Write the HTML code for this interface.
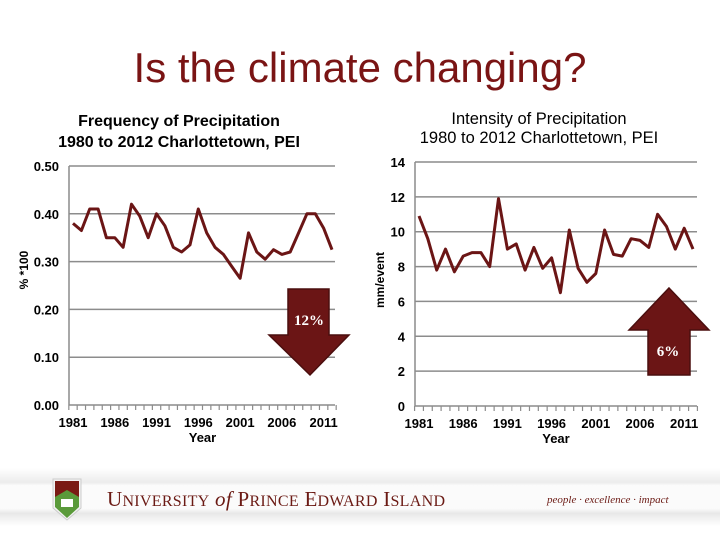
<!DOCTYPE html>
<html><head><meta charset="utf-8"><style>
body{margin:0;background:#fff;}
svg{display:block;font-family:"Liberation Sans",Arial,sans-serif;}
</style></head><body>
<svg id="s" width="720" height="540" viewBox="0 0 720 540">
<defs>
<linearGradient id="band" x1="0" y1="0" x2="0" y2="1">
<stop offset="0" stop-color="#fff"/><stop offset="0.25" stop-color="#ececec"/><stop offset="0.3" stop-color="#fbfbfb"/><stop offset="0.7" stop-color="#fbfbfb"/><stop offset="0.78" stop-color="#e8e8e8"/><stop offset="1" stop-color="#fff"/>
</linearGradient>
</defs>
<text x="360" y="82" text-anchor="middle" font-size="42" fill="#7a1414">Is the climate changing?</text>
<g font-size="16" font-weight="bold" text-anchor="middle" fill="#000">
<text x="179" y="126">Frequency of Precipitation</text><text x="179" y="147">1980 to 2012  Charlottetown, PEI</text></g>
<g font-size="16.5" text-anchor="middle" fill="#000">
<text x="539" y="124">Intensity of Precipitation</text><text x="539" y="143">1980 to 2012  Charlottetown, PEI</text></g>
<g id="left"></g>
<g id="right"></g>
<polygon points="288,289 329,289 329,335 349,335 310,375 269,335 288,335" fill="#6b1515" stroke="#4a0e0e" stroke-width="1.5"/>
<text x="309" y="325" text-anchor="middle" font-family="Liberation Serif,serif" font-weight="bold" font-size="15" fill="#fff">12%</text>
<polygon points="669,288 709,330 690,330 690,375 648,375 648,330 629,330" fill="#6b1515" stroke="#4a0e0e" stroke-width="1.5"/>
<text x="668" y="356" text-anchor="middle" font-family="Liberation Serif,serif" font-weight="bold" font-size="15" fill="#fff">6%</text>
<rect x="0" y="468" width="720" height="58" fill="url(#band)"/>
<g>
<path d="M53,479 L81,479 L81,508 L67,520 L53,508 Z" fill="#f2f2f2" stroke="#ccc" stroke-width="1"/>
<path d="M55,481 L79,481 L79,497 L55,497 Z" fill="#7a1a14"/>
<path d="M55,497 L67,490 L79,497 L79,507 L67,518 L55,507 Z" fill="#5a9a3a"/>
<rect x="61" y="499" width="12" height="8" fill="#fff"/>
</g>
<text x="107" y="506" font-family="Liberation Serif,serif" font-size="21" fill="#6b1a14" textLength="338">U<tspan font-size="16">NIVERSITY</tspan> <tspan font-style="italic">of</tspan> P<tspan font-size="16">RINCE</tspan> E<tspan font-size="16">DWARD</tspan> I<tspan font-size="16">SLAND</tspan></text>
<text x="547" y="503" font-family="Liberation Serif,serif" font-style="italic" font-size="11" fill="#6b1a14">people · excellence · impact</text>
</svg>
<script>
const years=[];for(let y=1981;y<=2012;y++)years.push(y);
const xTickLabels=["1981","1986","1991","1996","2001","2006","2011"];
const freqValues=[0.38,0.365,0.41,0.41,0.35,0.35,0.33,0.42,0.395,0.35,0.40,0.375,0.33,0.32,0.335,0.41,0.36,0.33,0.315,0.29,0.265,0.36,0.32,0.305,0.325,0.315,0.32,0.36,0.40,0.40,0.37,0.325];
const freqTicks=[0,0.1,0.2,0.3,0.4,0.5];
const intValues=[10.9,9.6,7.8,9.0,7.7,8.6,8.8,8.8,8.0,11.9,9.0,9.3,7.8,9.1,7.9,8.5,6.5,10.1,7.9,7.1,7.6,10.1,8.7,8.6,9.6,9.5,9.1,11.0,10.3,9.0,10.2,9.0];
const intTicks=[0,2,4,6,8,10,12,14];
const NS="http://www.w3.org/2000/svg";
function mk(p,t,a){const e=document.createElementNS(NS,t);for(const k in a)e.setAttribute(k,a[k]);p.appendChild(e);return e;}
function chart(g,vals,ticks,cfg){
 const ymax=ticks[ticks.length-1];
 const xs=i=>cfg.x0+(cfg.x1-cfg.x0)*i/(years.length-1);
 const ys=v=>cfg.yb-(cfg.yb-cfg.yt)*v/ymax;
 ticks.forEach(t=>{
  const l=mk(g,'line',{x1:cfg.ax,x2:cfg.ax+cfg.w,y1:ys(t),y2:ys(t),stroke:'#8c8c8c','stroke-width':1.5});
  
  
  const tx=mk(g,'text',{x:cfg.ax-cfg.lg,y:ys(t)+5,'text-anchor':'end','font-size':13,'font-weight':'bold'});
  tx.textContent=cfg.fmt(t);
  
  
 });
 const ax=mk(g,'line',{x1:cfg.ax,x2:cfg.ax,y1:cfg.yt,y2:cfg.yb,stroke:'#8c8c8c','stroke-width':1.5});
 
 
 const step=(cfg.x1-cfg.x0)/(years.length-1);
 for(let i=0;i<=years.length;i++){
  const x=xs(i)-step/2;
  const tk=mk(g,'line',{x1:x,x2:x,y1:cfg.yb,y2:cfg.yb+5,stroke:'#8c8c8c','stroke-width':1.2});
  
  
 }
 xTickLabels.forEach(lb=>{
  const i=years.indexOf(+lb);
  const t=mk(g,'text',{x:xs(i),y:cfg.yb+22,'text-anchor':'middle','font-size':13,'font-weight':'bold'});
  t.textContent=lb;
  
  
 });
 const xt=mk(g,'text',{x:(cfg.x0+cfg.x1)/2,y:cfg.yb+37,'text-anchor':'middle','font-size':13,'font-weight':'bold'});
 xt.textContent='Year';
 
 
 const yt=mk(g,'text',{x:0,y:0,'text-anchor':'middle','font-size':12,'font-weight':'bold',transform:`translate(${cfg.tx},${cfg.ty}) rotate(-90)`});
 yt.textContent=cfg.title;
 
 
 const pts=vals.map((v,i)=>xs(i).toFixed(1)+','+ys(v).toFixed(1)).join(' ');
 const pl=mk(g,'polyline',{points:pts,fill:'none',stroke:'#6b1515','stroke-width':3,'stroke-linejoin':'round'});
 
 
}
chart(document.getElementById('left'),freqValues,freqTicks,{ax:69,w:266,x0:73,x1:332,yt:166,yb:405,lg:10,fmt:t=>t.toFixed(2),title:'% *100',tx:28,ty:270});
chart(document.getElementById('right'),intValues,intTicks,{ax:415,w:282,x0:419,x1:693,yt:162,yb:406,lg:10,fmt:t=>String(t),title:'mm/event',tx:384,ty:280});
</script>
</body></html>
